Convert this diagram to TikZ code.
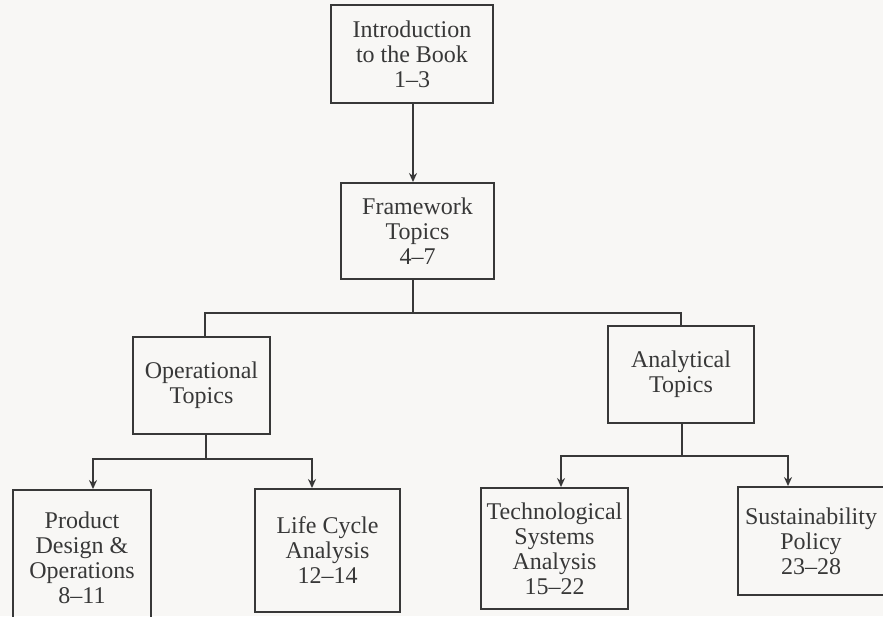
\documentclass[tikz,border=0pt]{standalone}
\usepackage{fontspec}
\setmainfont{Liberation Serif}
\usetikzlibrary{arrows.meta,calc}
\definecolor{ink}{HTML}{383838}
\definecolor{paper}{HTML}{F8F7F5}
\tikzset{
  box/.style={draw=ink, line width=1.9pt, text=ink, align=center, inner sep=0pt,
    font=\fontsize{24}{25}\selectfont},
  conn/.style={draw=ink, line width=1.6pt},
  arr/.style={conn, -{Stealth[length=9pt,width=8pt]}}
}
\begin{document}
\begin{tikzpicture}[x=1pt,y=-1pt]
\path[fill=paper] (0,0) rectangle (883,616);
\useasboundingbox (0,0) rectangle (883,616);
\begin{scope}
\clip (0,0) rectangle (883,616);
\node[box, minimum width=162, minimum height=98] (intro) at (412,54) {Introduction\\to the Book\\1--3};
\node[box, minimum width=153, minimum height=96] (frame) at (417.5,231) {Framework\\Topics\\4--7};
\node[box, minimum width=137, minimum height=97] (op) at (201.5,385.5) {Operational\\Topics};
\node[box, minimum width=146, minimum height=97] (an) at (681,374.5) {Analytical\\Topics};
\node[box, minimum width=138, minimum height=136] (prod) at (82,558) {Product\\Design \&\\Operations\\8--11};
\node[box, minimum width=145, minimum height=123] (life) at (327.5,550.5) {Life Cycle\\Analysis\\12--14};
\node[box, minimum width=147, minimum height=121] (tech) at (554.5,548.5) {Technological\\Systems\\Analysis\\15--22};
\node[box, minimum width=146, minimum height=108] (sust) at (811,541) {Sustainability\\Policy\\23--28};

\draw[arr] ([xshift=1]intro.south) -- ([xshift=-4.5]frame.north);
\draw[conn] ([xshift=-4.5]frame.south) -- ++(0,33) coordinate (b1);
\draw[conn] ([xshift=3.5]op.north) |- (b1) -| (an.north);

\draw[conn] ([xshift=4.5]op.south) -- ++(0,24) coordinate (b2);
\draw[arr] (b2) -| ([xshift=11]prod.north);
\draw[arr] (b2) -| ([xshift=-15.5]life.north);

\draw[conn] ([xshift=1]an.south) -- ++(0,32) coordinate (b3);
\draw[arr] (b3) -| ([xshift=6.5]tech.north);
\draw[arr] (b3) -| ([xshift=-23]sust.north);
\end{scope}
\end{tikzpicture}
\end{document}
